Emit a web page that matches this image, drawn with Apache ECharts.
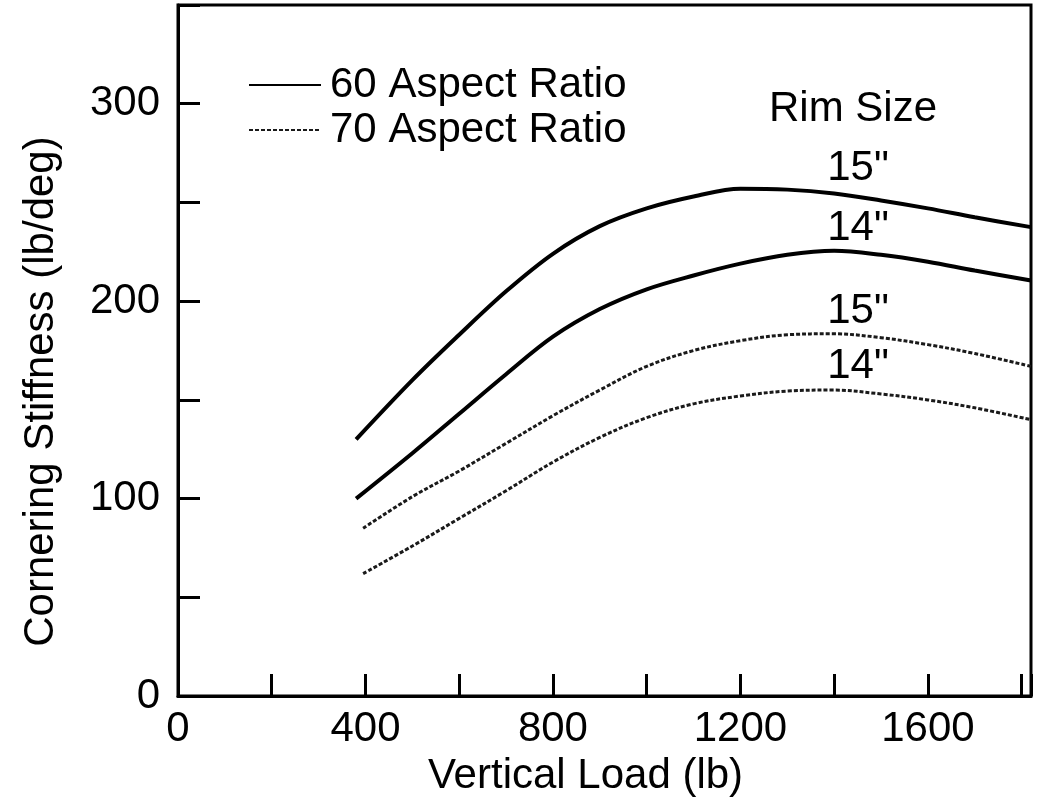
<!DOCTYPE html>
<html>
<head>
<meta charset="utf-8">
<title>Cornering Stiffness</title>
<script src="https://cdn.jsdelivr.net/npm/echarts@6/dist/echarts.min.js"></script>
<style>
  html, body { margin: 0; padding: 0; background: #fff; }
  #chart { width: 1038px; height: 802px; }
</style>
</head>
<body>
<div id="chart"></div>
<script>
// vertical load (lb)
const loads60 = [380, 500, 600, 700, 800, 900, 1000, 1100, 1200, 1300, 1400, 1500, 1600, 1700, 1820]
const loads70 = [395, 500, 600, 700, 800, 900, 1000, 1100, 1200, 1300, 1400, 1500, 1600, 1700, 1820]
// cornering stiffness (lb/deg)
const ar60rim15 = [130, 160, 183, 205, 224, 238, 247, 253, 257, 256.5, 254.5, 251, 247, 242.5, 237.5]
const ar60rim14 = [100, 123, 143, 163, 182, 196, 206, 213, 219, 223.5, 225.5, 223.5, 220, 215.5, 210.5]
const ar70rim15 = [85, 101, 114, 128, 142, 155, 167, 175, 180, 183, 183.5, 181.5, 178, 173.5, 167]
const ar70rim14 = [62, 76, 90, 104, 118.5, 131, 141, 148, 152, 154.5, 155, 153, 150, 146, 140]
const xTicks = [0, 400, 800, 1200, 1600]
const yTicks = [0, 100, 200, 300]
const rimLabels = ['15"', '14"', '15"', '14"']

const FONT = 'Liberation Sans'
const pair = (xs, ys) => xs.map((x, i) => [x, ys[i]])

const chart = echarts.init(document.getElementById('chart'))

const solid = { color: '#000', width: 4, type: 'solid' }
const dotted = { color: '#1a1a1a', width: 3, type: [4, 2] }

const mkSeries = (name, data, lineStyle) => ({
  name: name,
  type: 'line',
  smooth: 0.35,
  symbol: 'none',
  data: data,
  lineStyle: lineStyle,
  itemStyle: { color: lineStyle.color },
  animation: false
})

const rimY = [168, 228, 311, 366]

chart.setOption({
  backgroundColor: '#fff',
  grid: {
    left: 178, right: 7, top: 5, bottom: 99,
    show: true, borderColor: '#000', borderWidth: 3
  },
  legend: {
    orient: 'vertical',
    left: 248, top: 64,
    itemWidth: 72, itemHeight: 14, itemGap: 3,
    padding: 0,
    data: ['60 Aspect Ratio', '70 Aspect Ratio'],
    itemStyle: { color: 'rgba(0,0,0,0)', borderWidth: 0 },
    textStyle: { fontFamily: FONT, fontSize: 42, color: '#000', padding: [0, 0, 0, 4] }
  },
  xAxis: {
    type: 'value',
    min: 0, max: 1820, interval: 200,
    splitLine: { show: false },
    axisLine: { lineStyle: { color: '#000', width: 3 } },
    axisTick: { inside: true, length: 22, lineStyle: { color: '#000', width: 3 } },
    axisLabel: {
      margin: 12, fontFamily: FONT, fontSize: 42, color: '#000',
      formatter: v => xTicks.includes(v) ? String(v) : ''
    },
    name: 'Vertical Load (lb)',
    nameLocation: 'middle',
    nameGap: 32,
    nameTextStyle: { fontFamily: FONT, fontSize: 42, color: '#000', padding: [0, 38, 0, 0] }
  },
  yAxis: {
    type: 'value',
    min: 0, max: 350, interval: 50,
    splitLine: { show: false },
    axisLine: { lineStyle: { color: '#000', width: 3 } },
    axisTick: { inside: true, length: 22, lineStyle: { color: '#000', width: 3 } },
    axisLabel: {
      margin: 18, fontFamily: FONT, fontSize: 42, color: '#000',
      formatter: v => yTicks.includes(v) ? String(v) : ''
    },
    name: 'Cornering Stiffness (lb/deg)',
    nameLocation: 'middle',
    nameGap: 116,
    nameTextStyle: { fontFamily: FONT, fontSize: 42, color: '#000', padding: [0, 82, 0, 0] }
  },
  graphic: [
    {
      type: 'text', left: 769, top: 88,
      style: { text: 'Rim Size', font: '42px "Liberation Sans"', fill: '#000' }
    }
  ].concat(rimLabels.map((t, i) => ({
    type: 'text', x: 858, y: rimY[i],
    style: { text: t, font: '42px "Liberation Sans"', fill: '#000', align: 'center', verticalAlign: 'middle' }
  }))),
  series: [
    mkSeries('60 Aspect Ratio', pair(loads60, ar60rim15), solid),
    mkSeries('60 Aspect Ratio', pair(loads60, ar60rim14), solid),
    mkSeries('70 Aspect Ratio', pair(loads70, ar70rim15), dotted),
    mkSeries('70 Aspect Ratio', pair(loads70, ar70rim14), dotted)
  ]
})

window.onresize = function () {
  chart.resize()
}
</script>
</body>
</html>
